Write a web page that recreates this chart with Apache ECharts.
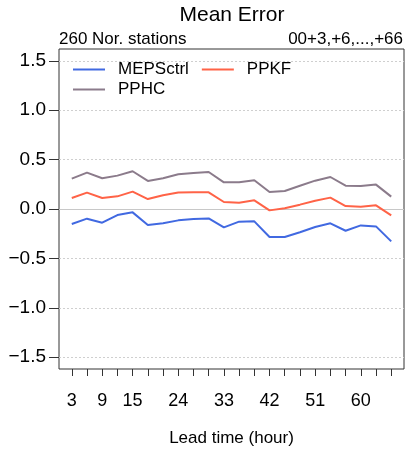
<!DOCTYPE html>
<html>
<head>
<meta charset="utf-8">
<script src="https://cdn.jsdelivr.net/npm/echarts@6/dist/echarts.min.js"></script>
<style>html,body{margin:0;padding:0;background:#fff;}#c{width:405px;height:457px;}</style>
</head>
<body>
<div id="c"></div>
<script>
var leadTimes = [3,6,9,12,15,18,21,24,27,30,33,36,39,42,45,48,51,54,57,60,63,66];
var xLabelValues = [3,9,15,24,33,42,51,60];
var yTickValues = [-1.5,-1.0,-0.5,0.0,0.5,1.0,1.5];
var mepsCtrl = [-0.152,-0.098,-0.139,-0.061,-0.034,-0.162,-0.145,-0.115,-0.101,-0.095,-0.186,-0.128,-0.125,-0.284,-0.284,-0.236,-0.182,-0.145,-0.220,-0.166,-0.176,-0.328];
var ppkf = [0.111,0.166,0.111,0.128,0.176,0.101,0.139,0.166,0.169,0.169,0.071,0.064,0.088,-0.014,0.007,0.044,0.084,0.115,0.030,0.024,0.037,-0.064];
var pphc = [0.307,0.368,0.311,0.338,0.382,0.284,0.311,0.351,0.365,0.375,0.270,0.270,0.291,0.172,0.182,0.236,0.287,0.324,0.236,0.233,0.247,0.125];
var seriesNames = ['MEPSctrl','PPKF','PPHC'];
var seriesColors = ['#4169E1','#FF6347','#8B7B8B'];

function pairs(arr){ return leadTimes.map(function(t,i){ return [t, arr[i]]; }); }
var FONT = '"Liberation Sans", Arial, sans-serif';

var gridLines = yTickValues.filter(function(v){return v!==0;}).map(function(v){
  return {yAxis: v, lineStyle: {type: [2,2], color: '#cfcfcf', width: 1}};
});
gridLines.push({yAxis: 0, lineStyle: {type: 'solid', color: '#c8c8c8', width: 1}});

var dataArrays = [mepsCtrl, ppkf, pphc];
var series = dataArrays.map(function(arr, i){
  var s = {
    name: seriesNames[i], type: 'line', data: pairs(arr),
    showSymbol: false, symbol: 'none', z: 5,
    lineStyle: {color: seriesColors[i], width: 2},
    itemStyle: {color: seriesColors[i]},
    animation: false
  };
  if (i === 0) {
    s.markLine = {silent: true, symbol: 'none', label: {show: false}, animation: false, data: gridLines, z: 1};
  }
  return s;
});

var chart = echarts.init(document.getElementById('c'), null, {renderer: 'canvas'});
chart.setOption({
  animation: false,
  backgroundColor: '#ffffff',
  textStyle: {fontFamily: FONT},
  title: [
    {text: 'Mean Error', left: 232, top: 5, padding: 0, textAlign: 'center',
     textStyle: {fontFamily: FONT, fontSize: 21, fontWeight: 'normal', color: '#000'}},
    {text: '260 Nor. stations', left: 59, top: 31, padding: 0,
     textStyle: {fontFamily: FONT, fontSize: 17, fontWeight: 'normal', color: '#000'}},
    {text: '00+3,+6,...,+66', right: 2, top: 31, padding: 0,
     textStyle: {fontFamily: FONT, fontSize: 17, fontWeight: 'normal', color: '#000'}}
  ],
  legend: {
    left: 73, top: 61, width: 300, itemGap: 3, padding: 0,
    itemWidth: 32, itemHeight: 2, icon: 'rect',
    data: seriesNames,
    textStyle: {fontFamily: FONT, fontSize: 17, color: '#000', padding: [0, 10, 0, 8], lineHeight: 17}
  },
  grid: {left: 59, right: 1, top: 49, bottom: 88, show: true, borderColor: '#333', borderWidth: 1, backgroundColor: 'transparent'},
  xAxis: {
    type: 'value', min: 0.48, max: 68.52,
    name: 'Lead time (hour)', nameLocation: 'middle', nameGap: 61,
    nameTextStyle: {fontFamily: FONT, fontSize: 17, color: '#000'},
    axisLine: {show: false, onZero: false},
    axisTick: {show: true, inside: false, length: 7, customValues: leadTimes, lineStyle: {color: '#333', width: 1}},
    axisLabel: {show: true, customValues: xLabelValues, margin: 23, fontFamily: FONT, fontSize: 18, color: '#000'},
    splitLine: {show: false}
  },
  yAxis: {
    type: 'value', min: -1.62, max: 1.62,
    axisLine: {show: false, onZero: false},
    axisTick: {show: true, inside: false, length: 10, customValues: yTickValues, lineStyle: {color: '#333', width: 1}},
    axisLabel: {show: true, customValues: yTickValues, margin: 13, fontFamily: FONT, fontSize: 19, color: '#000',
      formatter: function(v){ var s = Math.abs(v).toFixed(1); return v < 0 ? '\u2212' + s : s; }},
    splitLine: {show: false}
  },
  series: series
});
</script>
</body>
</html>
